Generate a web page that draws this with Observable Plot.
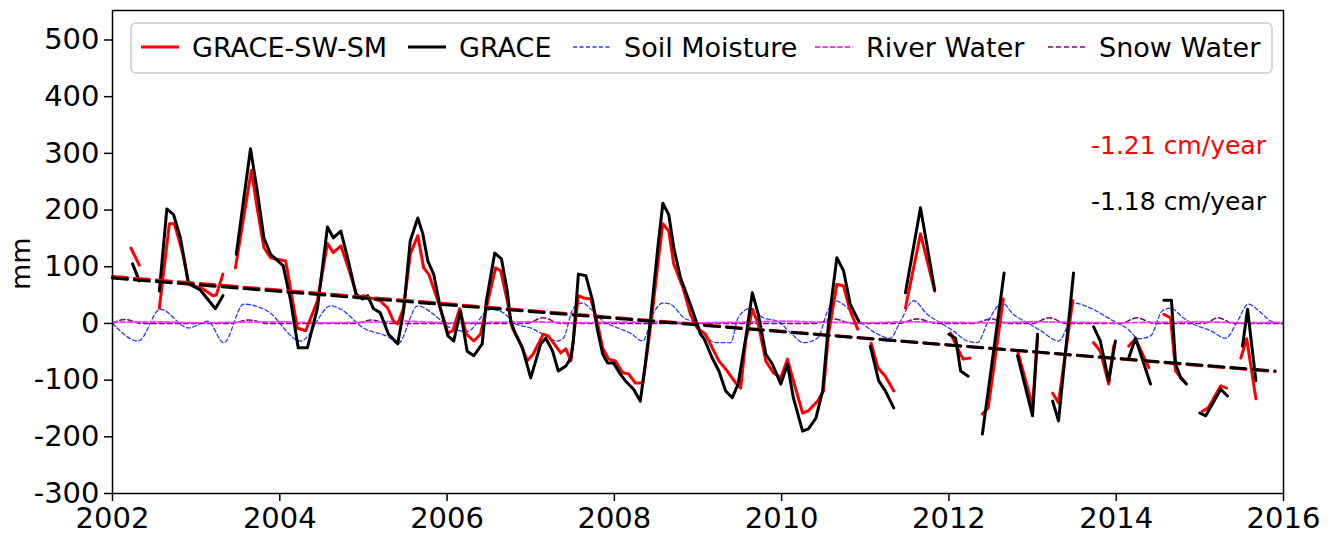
<!DOCTYPE html>
<html>
<head>
<meta charset="utf-8">
<script src="https://cdn.jsdelivr.net/npm/d3@7"></script>
<script src="https://cdn.jsdelivr.net/npm/@observablehq/plot@0.6"></script>
<style>
  html, body { margin: 0; padding: 0; background: #fff; }
  #chart { position: relative; width: 1339px; height: 543px; font-family: "DejaVu Sans", sans-serif; }
  #legend { position: absolute; left: 0; top: 0; pointer-events: none; }
</style>
</head>
<body>
<div id="chart"></div>
<script>
// ---- Tick labels ----
const xTicks = [2002, 2004, 2006, 2008, 2010, 2012, 2014, 2016];
const yTicks = [-300, -200, -100, 0, 100, 200, 300, 400, 500];

// ---- GRACE total water storage anomaly (mm); null marks a data gap ----
const graceT = [
  2002.24, 2002.32, 2002.44,
  2002.56, 2002.65, 2002.73, 2002.81, 2002.91, 2003.05, 2003.23, 2003.32, 2003.40,
  2003.48, 2003.65, 2003.73, 2003.81, 2003.89, 2003.95, 2004.04, 2004.13, 2004.22, 2004.33,
  2004.45, 2004.57, 2004.64, 2004.73, 2004.82, 2004.91, 2004.99, 2005.05, 2005.12, 2005.20,
  2005.30, 2005.41, 2005.48, 2005.56, 2005.65, 2005.71, 2005.77, 2005.84, 2005.92, 2006.01,
  2006.08, 2006.16, 2006.24, 2006.32, 2006.42, 2006.47, 2006.57, 2006.65, 2006.72, 2006.76,
  2006.82, 2006.90, 2007.00, 2007.12, 2007.18, 2007.26, 2007.33, 2007.42, 2007.48, 2007.51,
  2007.57, 2007.66, 2007.74, 2007.80, 2007.86, 2007.92, 2007.99, 2008.07, 2008.13, 2008.23,
  2008.31, 2008.37, 2008.43, 2008.52, 2008.58, 2008.65, 2008.71, 2008.79, 2008.88, 2008.95,
  2009.03, 2009.07, 2009.17, 2009.25, 2009.33, 2009.41, 2009.48, 2009.57, 2009.65, 2009.72,
  2009.81, 2009.89, 2009.99, 2010.07, 2010.14, 2010.25, 2010.32, 2010.41, 2010.49, 2010.56,
  2010.66, 2010.74, 2010.82, 2010.86, 2010.92, 2011.00,
  2011.06, 2011.16, 2011.24, 2011.34, 2011.40,
  2011.48, 2011.66, 2011.83, 2011.90,
  2012.00, 2012.08, 2012.14, 2012.23, 2012.30,
  2012.40, 2012.66, 2012.75,
  2012.82, 2013.00, 2013.06, 2013.15,
  2013.24, 2013.31, 2013.49, 2013.60,
  2013.73, 2013.81, 2013.91, 2013.99, 2014.08,
  2014.15, 2014.23, 2014.41, 2014.50,
  2014.57, 2014.66, 2014.71, 2014.77, 2014.84, 2014.92,
  2015.00, 2015.07, 2015.25, 2015.33, 2015.42,
  2015.51, 2015.57, 2015.67
];
const graceV = [
  105, 75, null,
  57, 202, 192, 152, 70, 59, 26, 49, null,
  122, 308, 234, 151, 122, 114, 102, 40, -43, -43,
  27, 170, 151, 163, 110, 52, 43, 49, 26, 19,
  -19, -36, 22, 146, 186, 158, 110, 87, 27, -22,
  -31, 22, -49, -57, -36, 40, 124, 114, 57, 4,
  -19, -43, -96, -36, -26, -48, -84, -75, -61, -31,
  87, 84, 40, -13, -54, -70, -70, -89, -101, -116,
  -137, -72, 4, 134, 212, 192, 134, 81, 45, 16,
  -19, -26, -61, -84, -119, -131, -107, -26, 54, 17,
  -54, -72, -107, -72, -131, -190, -186, -167, -119, -1,
  116, 93, 34, 22, 4, null,
  -40, -101, -119, -149, null,
  54, 204, 59, null,
  -19, -26, -84, -93, null,
  -195, 89, null,
  -57, -163, -19, null,
  -137, -172, 89, null,
  -6, -31, -101, -31, null,
  -61, -26, -107, null,
  41, 41, -71, -96, -107, null,
  -158, -163, -116, -128, null,
  -40, 25, -101
];

// ---- GRACE minus surface water and soil moisture (mm) ----
const residT = [
  2002.22, 2002.32, 2002.44,
  2002.56, 2002.68, 2002.74, 2002.84, 2002.91, 2003.08, 2003.20, 2003.24, 2003.32, 2003.40,
  2003.47, 2003.66, 2003.73, 2003.81, 2003.89, 2004.07, 2004.13, 2004.21, 2004.31, 2004.45,
  2004.57, 2004.64, 2004.73, 2004.82, 2004.93, 2005.00, 2005.08, 2005.20, 2005.29, 2005.36,
  2005.41, 2005.48, 2005.56, 2005.65, 2005.72, 2005.78, 2005.89, 2006.01, 2006.07, 2006.15,
  2006.23, 2006.32, 2006.40, 2006.48, 2006.58, 2006.64, 2006.72, 2006.78, 2006.88, 2006.96,
  2007.03, 2007.15, 2007.21, 2007.30, 2007.36, 2007.42, 2007.48, 2007.57, 2007.63, 2007.72,
  2007.80, 2007.86, 2007.93, 2008.01, 2008.10, 2008.17, 2008.25, 2008.34, 2008.40, 2008.46,
  2008.52, 2008.58, 2008.65, 2008.71, 2008.82, 2008.91, 2008.99, 2009.09, 2009.17, 2009.25,
  2009.35, 2009.45, 2009.51, 2009.57, 2009.65, 2009.72, 2009.81, 2009.90, 2009.99, 2010.07,
  2010.14, 2010.25, 2010.32, 2010.43, 2010.50, 2010.56, 2010.66, 2010.74, 2010.82, 2010.91,
  2011.00,
  2011.07, 2011.15, 2011.24, 2011.34, 2011.40,
  2011.48, 2011.66, 2011.83, 2011.90,
  2012.02, 2012.10, 2012.17, 2012.25, 2012.30,
  2012.40, 2012.47, 2012.65, 2012.75,
  2012.82, 2013.00, 2013.06, 2013.15,
  2013.24, 2013.31, 2013.48, 2013.60,
  2013.73, 2013.81, 2013.91, 2013.97, 2014.08,
  2014.15, 2014.23, 2014.39, 2014.50,
  2014.57, 2014.65, 2014.71, 2014.83, 2014.92,
  2015.03, 2015.10, 2015.25, 2015.32, 2015.42,
  2015.49, 2015.56, 2015.67
];
const residV = [
  133, 103, null,
  27, 176, 176, 123, 70, 61, 49, 50, 87, null,
  98, 270, 203, 134, 116, 110, 60, -8, -13, 40,
  141, 125, 137, 98, 45, 49, 45, 40, 27, 4,
  -1, 27, 122, 155, 98, 87, 40, -17, -13, 26,
  -19, -31, -19, 34, 98, 93, 40, -8, -36, -66,
  -54, -19, -22, -40, -52, -45, -66, 49, 45, 43,
  -1, -43, -63, -66, -87, -89, -105, -105, -43, 27,
  105, 176, 163, 105, 63, 16, -8, -19, -43, -66,
  -84, -105, -114, -31, 25, -1, -66, -87, -96, -63,
  -101, -158, -154, -137, -119, -19, 69, 66, 22, -10,
  null,
  -35, -78, -93, -119, null,
  27, 158, 57, null,
  -17, -43, -63, -61, null,
  -160, -149, 43, null,
  -48, -146, -22, null,
  -123, -140, 40, null,
  -34, -49, -107, -40, null,
  -40, -27, -78, null,
  16, 10, -84, -105, null,
  -155, -149, -110, -114, null,
  -61, -27, -133
];

// ---- Soil moisture anomaly (mm) ----
const soilT = [
  2002.00, 2002.31, 2002.57, 2002.91, 2003.14, 2003.33, 2003.57, 2003.85, 2004.25, 2004.61,
  2004.73, 2005.00, 2005.32, 2005.41, 2005.65, 2005.84, 2006.04, 2006.24, 2006.52, 2006.67,
  2006.82, 2007.00, 2007.15, 2007.32, 2007.39, 2007.51, 2007.62, 2007.72, 2007.87, 2008.04,
  2008.19, 2008.34, 2008.46, 2008.58, 2008.67, 2008.83, 2008.99, 2009.07, 2009.23, 2009.39,
  2009.48, 2009.63, 2009.78, 2009.95, 2010.11, 2010.26, 2010.43, 2010.55, 2010.64, 2010.79,
  2010.94, 2011.15, 2011.30, 2011.42, 2011.58, 2011.74, 2011.90, 2012.05, 2012.22, 2012.34,
  2012.47, 2012.64, 2012.77, 2012.94, 2013.10, 2013.31, 2013.42, 2013.49, 2013.69, 2013.97,
  2014.14, 2014.27, 2014.41, 2014.55, 2014.65, 2014.80, 2014.92, 2015.13, 2015.31, 2015.45,
  2015.58, 2015.73, 2015.85, 2016.00
];
const soilV = [
  0, -31, 25, -8, 4, -34, 34, 22, -31, 31,
  25, -8, -26, -36, 31, 16, -8, -14, 25, 19,
  -1, -8, -19, -31, -26, 27, 36, 25, 4, -8,
  -17, -31, 16, 36, 34, 10, -1, -19, -34, -34,
  10, 27, 10, 4, -17, -34, -26, 22, 40, 27,
  4, -19, -26, 4, 40, 16, 1, -13, -31, -34,
  4, 36, 16, 1, -13, -31, -1, 36, 27, 4,
  -10, -27, -22, 22, 27, 10, -1, -13, -26, 4,
  34, 19, 4, -1
];

// ---- River water anomaly (mm) ----
const riverT = [
  2002.0, 2002.5, 2003.0, 2003.5, 2004.0, 2004.5, 2005.0, 2005.5, 2006.0, 2006.5,
  2007.0, 2007.5, 2008.0, 2008.5, 2009.0, 2009.5, 2010.0, 2010.5, 2011.0, 2011.5,
  2012.0, 2012.5, 2013.0, 2013.5, 2014.0, 2014.5, 2015.0, 2015.5, 2016.0
];
const riverV = [
  2, 3, 1, 2, 3, 1, 2, 4, 1, 2,
  3, 1, 2, 3, 1, 2, 4, 2, 1, 3,
  2, 1, 3, 2, 1, 2, 3, 1, 2
];

// ---- Snow water anomaly (mm) ----
const snowT = [
  2002.00, 2002.15, 2002.35, 2003.40, 2003.63, 2003.85, 2004.90, 2005.10, 2005.30,
  2006.95, 2007.15, 2007.35, 2010.40, 2010.62, 2010.85, 2011.40, 2011.62, 2011.85,
  2012.30, 2012.50, 2012.70, 2013.00, 2013.20, 2013.40, 2014.05, 2014.25, 2014.45,
  2015.05, 2015.22, 2015.40, 2016.00
];
const snowV = [
  0, 7, 0, 0, 6, 0, 0, 6, 0,
  0, 10, 0, 0, 8, 0, 0, 8, 0,
  0, 8, 0, 0, 10, 0, 0, 10, 0,
  0, 10, 0, 0
];

// ---- Linear trends (cm/year) and their start values (mm at 2002) ----
const trendLabels = ["-1.21 cm/year", "-1.18 cm/year"];
const trendRates = [-1.21, -1.18];      // cm/year
const trendStart = [83, 80];            // mm at 2002.0
const trendSpan = [2002, 2015.9];
const trendColors = ["#ff0000", "#000000"];
const trendLabelY = [313, 214];

const rows = (T, V) => T.map((t, i) => ({t, v: V[i]}));
const grace = rows(graceT, graceV);
const resid = rows(residT, residV);
const soil = rows(soilT, soilV);
const river = rows(riverT, riverV);
const snow = rows(snowT, snowV);
const trends = trendRates.map((r, k) => trendSpan.map(t => ({t, v: trendStart[k] + r * 10 * (t - 2002)})));
const trendText = trendLabels.map((s, k) => ({s, y: trendLabelY[k], c: trendColors[k]}));

const chart = Plot.plot({
  width: 1339,
  height: 543,
  marginLeft: 112,
  marginRight: 56,
  marginTop: 10,
  marginBottom: 50,
  style: {fontFamily: "DejaVu Sans, sans-serif", fontSize: "29px", color: "#000", background: "#fff", overflow: "visible"},
  x: {domain: [2002, 2016]},
  y: {domain: [-300, 552]},
  marks: [
    Plot.line(soil, {x: "t", y: "v", stroke: "#2b3cff", strokeWidth: 1.3, strokeDasharray: "4,2.5", curve: "monotone-x", clip: true}),
    Plot.line(snow, {x: "t", y: "v", stroke: "#800080", strokeWidth: 1.6, strokeDasharray: "5,3", curve: "monotone-x", clip: true}),
    Plot.line(river, {x: "t", y: "v", stroke: "#ff33ff", strokeWidth: 1.8, strokeDasharray: "5,2.5", clip: true}),
    Plot.line(resid, {x: "t", y: "v", stroke: "#ff0000", strokeWidth: 3, clip: true}),
    Plot.line(grace, {x: "t", y: "v", stroke: "#000", strokeWidth: 3, clip: true}),
    ...trends.map((d, k) => Plot.line(d, {x: "t", y: "v", stroke: trendColors[k], strokeWidth: 3, strokeDasharray: "15,7"})),
    Plot.text(trendText, {x: 2015.79, y: "y", text: "s", fill: "c", textAnchor: "end", fontSize: 25}),
    Plot.frame({stroke: "#000", strokeWidth: 1.5}),
    Plot.axisX({ticks: xTicks, tickFormat: d => String(d), tickSize: 8, tickPadding: 6, fontSize: 29, label: null, strokeWidth: 1.5}),
    Plot.axisY({ticks: yTicks, tickFormat: d => String(d), tickSize: 8, tickPadding: 5, fontSize: 29, label: null, strokeWidth: 1.5}),
    Plot.text(["mm"], {frameAnchor: "left", dx: -91, dy: 38, rotate: -90, fontSize: 27})
  ]
});

const host = document.getElementById("chart");
host.appendChild(chart);

// ---- Legend drawn inside the plot frame ----
const legendItems = [
  {label: "GRACE-SW-SM", color: "#ff0000", width: 3, dash: null, x: 141},
  {label: "GRACE", color: "#000000", width: 3, dash: null, x: 408},
  {label: "Soil Moisture", color: "#2b3cff", width: 1.3, dash: "4,2.5", x: 573},
  {label: "River Water", color: "#ff33ff", width: 1.8, dash: "5,2.5", x: 815},
  {label: "Snow Water", color: "#800080", width: 1.6, dash: "5,3", x: 1048}
];
const ns = "http://www.w3.org/2000/svg";
const lg = document.createElementNS(ns, "svg");
lg.setAttribute("id", "legend");
lg.setAttribute("width", 1339);
lg.setAttribute("height", 543);
const box = document.createElementNS(ns, "rect");
box.setAttribute("x", 131); box.setAttribute("y", 23);
box.setAttribute("width", 1141); box.setAttribute("height", 50);
box.setAttribute("rx", 5);
box.setAttribute("fill", "rgba(255,255,255,0.85)");
box.setAttribute("stroke", "#cccccc"); box.setAttribute("stroke-width", 1.5);
lg.appendChild(box);
for (const it of legendItems) {
  const ln = document.createElementNS(ns, "line");
  ln.setAttribute("x1", it.x); ln.setAttribute("x2", it.x + 38);
  ln.setAttribute("y1", 47); ln.setAttribute("y2", 47);
  ln.setAttribute("stroke", it.color); ln.setAttribute("stroke-width", it.width);
  if (it.dash) ln.setAttribute("stroke-dasharray", it.dash);
  lg.appendChild(ln);
  const tx = document.createElementNS(ns, "text");
  tx.setAttribute("x", it.x + 51); tx.setAttribute("y", 57);
  tx.setAttribute("font-family", "DejaVu Sans, sans-serif");
  tx.setAttribute("font-size", 27);
  tx.setAttribute("fill", "#000");
  tx.textContent = it.label;
  lg.appendChild(tx);
}
host.appendChild(lg);
</script>
</body>
</html>
